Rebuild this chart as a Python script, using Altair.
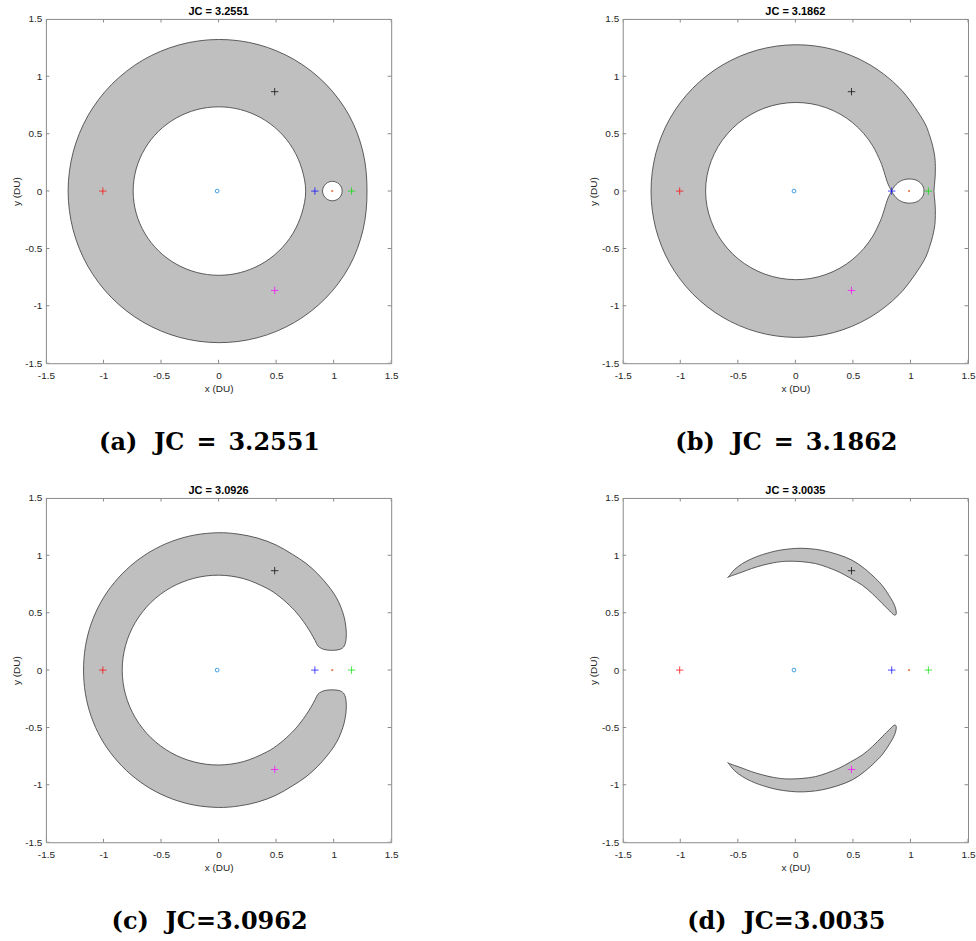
import math
import altair as alt
import pandas as pd

# ---------------- values ----------------
tick_vals = [-1.5, -1, -0.5, 0, 0.5, 1, 1.5]

panel_titles = ["JC = 3.2551", "JC = 3.1862", "JC = 3.0926", "JC = 3.0035"]
panel_captions = ["(a)\u2002\u2009JC\u2002=\u20023.2551", "(b)\u2002\u2009JC\u2002=\u20023.1862",
                  "(c)\u2002\u2009JC=3.0962", "(d)\u2002\u2009JC=3.0035"]

# Lagrange points (plus markers)
lp_x = [0.8369, 1.1557, -1.0051, 0.4878, 0.4878]
lp_y = [0.0, 0.0, 0.0, 0.8660, -0.8660]
lp_color = ["#0000ff", "#00e000", "#ff0000", "#000000", "#ff00ff"]
earth_x, earth_y = [-0.01215], [0.0]
moon_x, moon_y = [0.98785], [0.0]

# (a) JC = 3.2551 : outer boundary, inner (Earth) boundary, Moon oval  (polar, deg / DU)
a_ang = [0, 15, 30, 45, 60, 75, 90, 105, 120, 135, 150, 165, 180,
         195, 210, 225, 240, 255, 270, 285, 300, 315, 330, 345]
a_outer_r = [1.290, 1.300, 1.312, 1.318, 1.321, 1.322, 1.321, 1.319, 1.317, 1.314, 1.311, 1.308, 1.307,
             1.308, 1.311, 1.314, 1.317, 1.319, 1.321, 1.322, 1.321, 1.318, 1.312, 1.300]
a_inner_r = [0.757, 0.749, 0.744, 0.740, 0.737, 0.735, 0.734, 0.734, 0.735, 0.737, 0.739, 0.741, 0.742,
             0.741, 0.739, 0.737, 0.735, 0.734, 0.734, 0.735, 0.737, 0.740, 0.744, 0.749]
a_moon_ang = [0, 30, 60, 90, 120, 150, 180, 210, 240, 270, 300, 330]
a_moon_r = [0.085, 0.085, 0.085, 0.085, 0.085, 0.085, 0.086, 0.085, 0.085, 0.085, 0.085, 0.085]
a_moon_cx = 0.989

# (b) JC = 3.1862
b_outer_ang = [0, 5, 10, 15, 22, 30, 45, 60, 75, 90, 105, 120, 135, 150, 165, 180,
               195, 210, 225, 240, 255, 270, 285, 300, 315, 330, 338, 345, 350, 355]
b_outer_r = [1.204, 1.218, 1.235, 1.250, 1.262, 1.270, 1.275, 1.277, 1.277, 1.275, 1.272, 1.268, 1.264, 1.260,
             1.256, 1.254, 1.256, 1.260, 1.264, 1.268, 1.272, 1.275, 1.277, 1.277, 1.275, 1.270, 1.262, 1.250,
             1.235, 1.218]
b_inner_ang = [0, 3, 6, 10, 15, 20, 30, 40, 50, 60, 70, 80, 90, 100, 110, 120, 130, 140, 150, 160, 170, 180,
               190, 200, 210, 220, 230, 240, 250, 260, 270, 280, 290, 300, 310, 320, 330, 340, 345, 350, 354,
               357, 360]
b_inner_r = [0.836, 0.815, 0.801, 0.792, 0.786, 0.782, 0.779, 0.777, 0.776, 0.775, 0.774, 0.773, 0.772,
             0.771, 0.771, 0.771, 0.772, 0.773, 0.775, 0.777, 0.779, 0.780,
             0.779, 0.777, 0.775, 0.773, 0.772, 0.771, 0.771, 0.771, 0.772, 0.773, 0.774, 0.775, 0.776, 0.777,
             0.779, 0.782, 0.786, 0.792, 0.801, 0.815, 0.836]
b_lobe_x = [0.837, 0.852, 0.875, 0.905, 0.940, 0.980, 1.020, 1.055, 1.085, 1.105, 1.115, 1.117,
            1.115, 1.105, 1.085, 1.055, 1.020, 0.980, 0.940, 0.905, 0.875, 0.852, 0.837]
b_lobe_y = [0.000, 0.028, 0.058, 0.082, 0.098, 0.105, 0.103, 0.093, 0.073, 0.048, 0.024, 0.000,
            -0.024, -0.048, -0.073, -0.093, -0.103, -0.105, -0.098, -0.082, -0.058, -0.028, 0.000]

# (c) JC = 3.0962 : C-shaped forbidden region
c_x = [1.110, 1.100, 1.080, 1.045, 1.000, 0.940, 0.860, 0.760, 0.640, 0.500, 0.340, 0.170, 0.000,
       -0.2075, -0.408, -0.595, -0.763, -0.907, -1.023, -1.107, -1.157, -1.173,
       -1.157, -1.107, -1.023, -0.907, -0.763, -0.595, -0.408, -0.2075,
       0.000, 0.170, 0.340, 0.500, 0.640, 0.760, 0.860, 0.940, 1.000, 1.045, 1.080, 1.100, 1.110,
       1.105, 1.085, 1.045, 0.990, 0.935, 0.895, 0.862,
       0.8396, 0.802, 0.7618, 0.7095, 0.642, 0.5342, 0.4135, 0.2138, 0.000, -0.2143, -0.415, -0.5883,
       -0.7223, -0.8075,
       -0.837, -0.8075, -0.7223, -0.5883, -0.415, -0.2143, 0.000, 0.2138, 0.4135, 0.5342, 0.642, 0.7095,
       0.7618, 0.802, 0.8396,
       0.862, 0.895, 0.935, 0.990, 1.045, 1.085, 1.105]
c_y = [0.330, 0.420, 0.500, 0.590, 0.670, 0.750, 0.840, 0.930, 1.010, 1.090, 1.150, 1.185, 1.197,
       1.177, 1.121, 1.031, 0.909, 0.761, 0.591, 0.403, 0.204, 0.000,
       -0.204, -0.403, -0.591, -0.761, -0.909, -1.031, -1.121, -1.177,
       -1.197, -1.185, -1.150, -1.090, -1.010, -0.930, -0.840, -0.750, -0.670, -0.590, -0.500, -0.420, -0.330,
       -0.250, -0.200, -0.178, -0.172, -0.176, -0.188, -0.212,
       -0.2567, -0.324, -0.3882, -0.4608, -0.5387, -0.6366, -0.7162, -0.7979, -0.827, -0.7998, -0.7188,
       -0.5883, -0.417, -0.2164,
       0.000, 0.2164, 0.417, 0.5883, 0.7188, 0.7998, 0.827, 0.7979, 0.7162, 0.6366, 0.5387, 0.4608,
       0.3882, 0.324, 0.2567,
       0.212, 0.188, 0.176, 0.172, 0.178, 0.200, 0.250]

# (d) JC = 3.0035 : two crescents around L4 and L5
d_upper_x = [-0.581, -0.530, -0.460, -0.380, -0.286, -0.150, 0.000, 0.120, 0.234, 0.370, 0.494, 0.600,
             0.697, 0.760, 0.812, 0.850, 0.870, 0.877, 0.872, 0.855,
             0.820, 0.754, 0.670, 0.581, 0.480, 0.379, 0.280, 0.176, 0.050, -0.084, -0.190, -0.286, -0.380,
             -0.460, -0.530, -0.581]
d_upper_y = [0.812, 0.875, 0.928, 0.970, 1.006, 1.042, 1.060, 1.058, 1.043, 1.007, 0.957, 0.885,
             0.798, 0.730, 0.653, 0.590, 0.540, 0.500, 0.482, 0.482,
             0.515, 0.581, 0.665, 0.740, 0.800, 0.855, 0.895, 0.928, 0.945, 0.948, 0.935, 0.913, 0.885,
             0.855, 0.830, 0.812]
d_lower_x = [-0.581, -0.530, -0.460, -0.380, -0.286, -0.150, 0.000, 0.120, 0.234, 0.370, 0.494, 0.600,
             0.697, 0.760, 0.812, 0.850, 0.870, 0.877, 0.872, 0.855,
             0.820, 0.754, 0.670, 0.581, 0.480, 0.379, 0.280, 0.176, 0.050, -0.084, -0.190, -0.286, -0.380,
             -0.460, -0.530, -0.581]
d_lower_y = [-0.812, -0.875, -0.928, -0.970, -1.006, -1.042, -1.060, -1.058, -1.043, -1.007, -0.957, -0.885,
             -0.798, -0.730, -0.653, -0.590, -0.540, -0.500, -0.482, -0.482,
             -0.515, -0.581, -0.665, -0.740, -0.800, -0.855, -0.895, -0.928, -0.945, -0.948, -0.935, -0.913,
             -0.885, -0.855, -0.830, -0.812]

# ---------------- styling ----------------
GRAY = "#bfbfbf"
EDGE = "#3a3a3a"
FRAME = "#8a8a8a"
TXT = "#262626"
PLUS = "M-1,0L1,0M0,-1L0,1"
W, H = 346, 345


def polar(ang, r, cx=0.0):
    xs = [cx + rr * math.cos(math.radians(a)) for a, rr in zip(ang, r)]
    ys = [rr * math.sin(math.radians(a)) for a, rr in zip(ang, r)]
    return xs, ys


def shapes_df(shapes):
    rows = []
    for sid, (xs, ys) in enumerate(shapes):
        for i, (x, y) in enumerate(zip(xs, ys)):
            rows.append({"shape": sid, "i": i, "x": x, "y": y})
    return pd.DataFrame(rows)


SCALE = alt.Scale(domain=[-1.5, 1.5], nice=False, zero=False)


def X():
    return alt.X("x:Q", scale=SCALE,
                 axis=alt.Axis(values=tick_vals, title="x (DU)", labelPadding=7, titlePadding=3))


def Y():
    return alt.Y("y:Q", scale=SCALE,
                 axis=alt.Axis(values=tick_vals, title="y (DU)", labelPadding=4, titlePadding=3))


lp_df = pd.DataFrame({"x": lp_x, "y": lp_y, "c": lp_color})
earth_df = pd.DataFrame({"x": earth_x, "y": earth_y})
moon_df = pd.DataFrame({"x": moon_x, "y": moon_y})
xt_df = pd.DataFrame({"x": tick_vals + tick_vals, "y": [-1.5] * 7 + [1.5] * 7})
yt_df = pd.DataFrame({"x": [-1.5] * 7 + [1.5] * 7, "y": tick_vals + tick_vals})


def panel(title, caption, gray_shapes, white_shapes):
    layers = []
    layers.append(
        alt.Chart(shapes_df(gray_shapes)).mark_line(
            interpolate="cardinal-closed", fill=GRAY, stroke=EDGE, strokeWidth=0.8
        ).encode(x=X(), y=Y(), order="i:Q", detail="shape:N")
    )
    if white_shapes:
        layers.append(
            alt.Chart(shapes_df(white_shapes)).mark_line(
                interpolate="cardinal-closed", fill="white", stroke=EDGE, strokeWidth=0.8
            ).encode(x=X(), y=Y(), order="i:Q", detail="shape:N")
        )
    layers.append(
        alt.Chart(xt_df).mark_tick(orient="vertical", size=7, thickness=1, color=FRAME, clip=True, opacity=1)
        .encode(x=X(), y=Y())
    )
    layers.append(
        alt.Chart(yt_df).mark_tick(orient="horizontal", size=7, thickness=1, color=FRAME, clip=True, opacity=1)
        .encode(x=X(), y=Y())
    )
    layers.append(
        alt.Chart(lp_df).mark_point(shape=PLUS, size=55, filled=False, strokeWidth=0.8, opacity=0.9)
        .encode(x=X(), y=Y(), color=alt.Color("c:N", scale=None))
    )
    layers.append(
        alt.Chart(earth_df).mark_point(shape="circle", size=14, filled=False, strokeWidth=1,
                                        color="#3f9fdf", opacity=1)
        .encode(x=X(), y=Y())
    )
    layers.append(
        alt.Chart(moon_df).mark_point(shape="square", size=4, filled=True, color="#e8865a", opacity=1)
        .encode(x=X(), y=Y())
    )
    # panel heading (above the frame)
    layers.append(
        alt.Chart(pd.DataFrame({"t": [title]})).mark_text(
            font="Liberation Sans", fontWeight="bold", fontSize=11, align="center", baseline="middle",
            color="black"
        ).encode(text="t:N", x=alt.value(W / 2), y=alt.value(-7))
    )
    # sub-figure caption (below the axes)
    layers.append(
        alt.Chart(pd.DataFrame({"t": [caption]})).mark_text(
            font="DejaVu Serif", fontWeight="bold", fontSize=24, align="center", baseline="middle",
            color="black"
        ).encode(text="t:N", x=alt.value(W / 2 - 9), y=alt.value(425))
    )
    return alt.layer(*layers).properties(width=W, height=H)


pa = panel(panel_titles[0], panel_captions[0],
           [polar(a_ang, a_outer_r)],
           [polar(a_ang, a_inner_r), polar(a_moon_ang, a_moon_r, a_moon_cx)])
pb = panel(panel_titles[1], panel_captions[1],
           [polar(b_outer_ang, b_outer_r)],
           [polar(b_inner_ang, b_inner_r), (b_lobe_x, b_lobe_y)])
pc = panel(panel_titles[2], panel_captions[2], [(c_x, c_y)], [])
pdd = panel(panel_titles[3], panel_captions[3], [(d_upper_x, d_upper_y), (d_lower_x, d_lower_y)], [])

row1 = alt.hconcat(pa, pb, spacing=189)
row2 = alt.hconcat(pc, pdd, spacing=189)

chart = alt.vconcat(row1, row2, spacing=28).properties(
    padding={"left": 11, "top": 4, "right": 0, "bottom": 0},
    background="white",
).configure_view(
    stroke=FRAME, strokeWidth=1
).configure_axis(
    ticks=False, domain=False, grid=False,
    labelFont="Liberation Sans", labelFontSize=10, labelColor=TXT,
    titleFont="Liberation Sans", titleFontSize=10, titleFontWeight="normal", titleColor=TXT,
    labelExpr="'' + datum.value", labelOverlap=False, labelFlush=False, labelBound=False,
)

chart.save("out.html", embed_options={"renderer": "svg", "actions": False})
